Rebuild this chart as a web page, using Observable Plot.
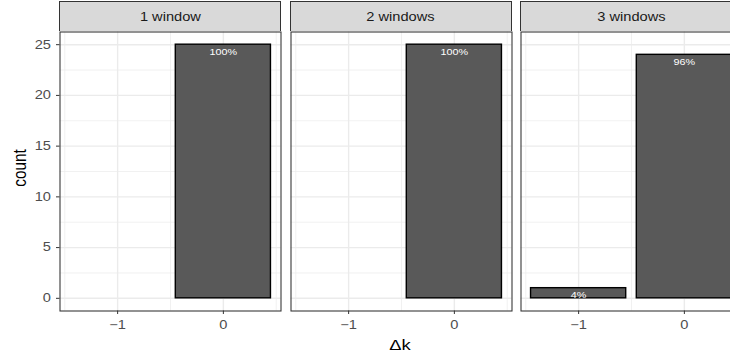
<!DOCTYPE html>
<html>
<head>
<meta charset="utf-8">
<script src="https://cdn.jsdelivr.net/npm/d3@7"></script>
<script src="https://cdn.jsdelivr.net/npm/@observablehq/plot@0.6"></script>
<style>
  html, body { margin: 0; padding: 0; background: #fff; overflow: hidden; }
  #chart {
    position: relative; width: 730px; height: 360px; overflow: hidden;
    background: #fff; font-family: "Liberation Sans", Arial, sans-serif;
  }
  .strip {
    position: absolute; top: 1px; height: 30px; box-sizing: border-box;
    border: 1px solid #333333; border-bottom: none; background: #d9d9d9;
    color: #1a1a1a; font-size: 12.2px;
    display: flex; align-items: center; justify-content: center;
  }
  .strip span { display: inline-block; transform: scaleX(1.2); }
  .panel { position: absolute; top: 0; }
  .title { position: absolute; color: #000; font-size: 15.3px; line-height: 1; white-space: nowrap; }
</style>
</head>
<body>
<div id="chart"></div>
<script>
// Facet labels and per-facet counts for each Δk value
const panelNames = ["1 window", "2 windows", "3 windows"];
const deltaK = [-1, 0];
const counts1 = [0, 25];
const counts2 = [0, 25];
const counts3 = [1, 24];

// Axis ticks and grid breaks
const xTicks = [-1, 0];
const xMinor = [-1.5, -0.5, 0.5];
const yTicks = [0, 5, 10, 15, 20, 25];
const yMinor = [2.5, 7.5, 12.5, 17.5, 22.5];

const panelCounts = [counts1, counts2, counts3];

// Layout of the facet panels
const panelW = 221;
const panelStep = 230.5;
const firstLeft = 59;      // pixel column of the first panel border
const mLeft = 59.5;
const mTop = 31.5;
const mBottom = 49.5;
const H = 360;
const barWidth = 0.9;
const textStretch = 1.2;   // horizontal stretch applied to every label

const chart = document.getElementById("chart");

// Widen each SVG label horizontally around its own anchor point
function stretchText(svg) {
  svg.querySelectorAll("text").forEach(t => {
    const x = +t.getAttribute("x") || 0;
    const y = +t.getAttribute("y") || 0;
    const tr = t.getAttribute("transform") || "";
    t.setAttribute("transform",
      `${tr} translate(${x},${y}) scale(${textStretch},1) translate(${-x},${-y})`);
  });
}

panelCounts.forEach((counts, i) => {
  const total = d3.sum(counts);
  const rows = deltaK
    .map((k, j) => ({k, count: counts[j], label: Math.round(100 * counts[j] / total) + "%"}))
    .filter(d => d.count > 0);

  const left = firstLeft + i * panelStep;

  const marks = [
    Plot.ruleX(xMinor, {stroke: "#ebebeb", strokeWidth: 0.7}),
    Plot.ruleY(yMinor, {stroke: "#ebebeb", strokeWidth: 0.7}),
    Plot.ruleX(xTicks, {stroke: "#ebebeb", strokeWidth: 1.4}),
    Plot.ruleY(yTicks, {stroke: "#ebebeb", strokeWidth: 1.4}),
    Plot.rect(rows, {
      x1: d => d.k - barWidth / 2,
      x2: d => d.k + barWidth / 2,
      y1: () => 0,
      y2: "count",
      fill: "#595959",
      stroke: "#000",
      strokeWidth: 1.4
    }),
    Plot.text(rows, {x: "k", y: "count", text: "label", dy: 7, fill: "#ffffff", fontSize: 9}),
    Plot.frame({stroke: "#333333", strokeWidth: 1.07}),
    Plot.axisX(xTicks, {
      anchor: "bottom", tickSize: 3.5, tickPadding: 6,
      tickFormat: d3.format("d"), fontSize: 12.2,
      stroke: "#333333", fill: "#4d4d4d", label: null
    })
  ];
  if (i === 0) {
    marks.push(Plot.axisY(yTicks, {
      anchor: "left", tickSize: 3.5, tickPadding: 5.5, fontSize: 12.2,
      stroke: "#333333", fill: "#4d4d4d", label: null
    }));
  }

  const svg = Plot.plot({
    width: mLeft + panelW + 1,
    height: H,
    marginLeft: mLeft,
    marginRight: 1,
    marginTop: mTop,
    marginBottom: mBottom,
    x: {domain: [-1.545, 0.545], axis: null},
    y: {domain: [-1.25, 26.25], axis: null},
    style: {background: "transparent", fontFamily: "'Liberation Sans', Arial, sans-serif", overflow: "visible"},
    marks
  });
  stretchText(svg);
  svg.classList.add("panel");
  svg.style.left = (left - 59) + "px";
  chart.appendChild(svg);

  const strip = document.createElement("div");
  strip.className = "strip";
  strip.style.left = left + "px";
  strip.style.width = (panelW + 1) + "px";
  const label = document.createElement("span");
  label.textContent = panelNames[i];
  strip.appendChild(label);
  chart.appendChild(strip);
});

// Axis titles
const yTitle = document.createElement("div");
yTitle.className = "title";
yTitle.textContent = "count";
yTitle.style.left = "20px";
yTitle.style.top = "168px";
yTitle.style.transform = `translate(-50%, -50%) scaleX(${textStretch}) rotate(-90deg)`;
chart.appendChild(yTitle);

const xTitle = document.createElement("div");
xTitle.className = "title";
xTitle.textContent = "Δk";
xTitle.style.left = "400px";
xTitle.style.top = "345px";
xTitle.style.transform = `translate(-50%, -50%) scaleX(${textStretch})`;
chart.appendChild(xTitle);
</script>
</body>
</html>
